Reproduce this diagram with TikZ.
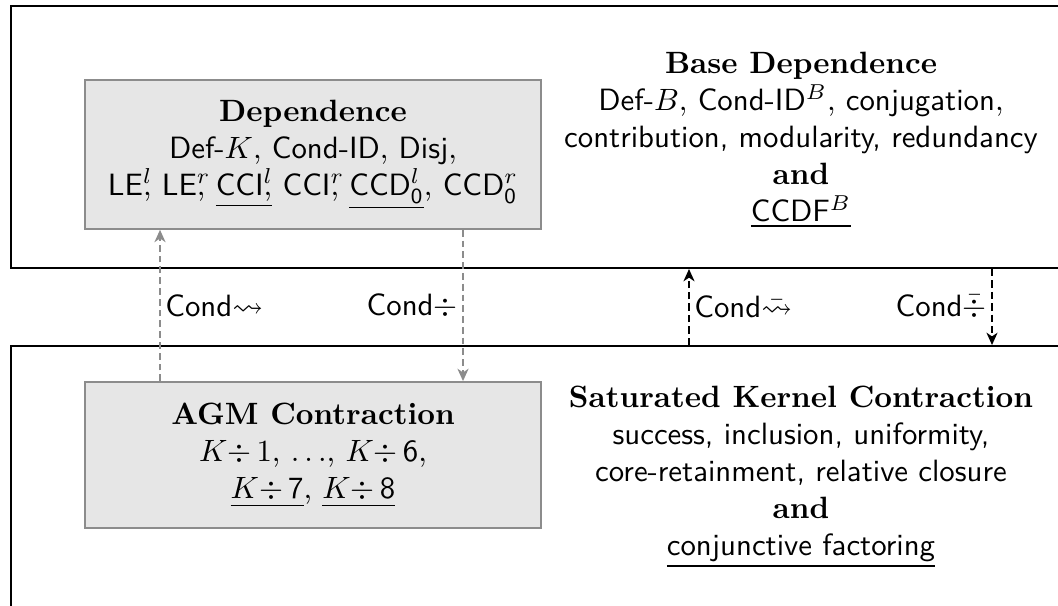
\documentclass[tikz,border=0pt]{standalone}
\usepackage{amssymb}
\usetikzlibrary{arrows.meta}
\definecolor{boxgray}{HTML}{E6E6E6}
\definecolor{linegray}{HTML}{8C8C8C}
\newcommand\tsup[1]{\rlap{$^{#1}$}}
\tikzset{
  frame/.style={draw=black, line width=0.65pt, anchor=north west, inner sep=0pt},
  gbox/.style={draw=linegray, fill=boxgray, line width=0.5pt, minimum width=148pt, minimum height=48.4pt, align=center, inner sep=0pt},
  txt/.style={align=center, inner sep=0pt},
  garrow/.style={draw=linegray, line width=0.5pt, dash pattern=on 2.2pt off 1.3pt, -{Stealth[length=4pt,width=3.6pt,inset=1.2pt]}},
  barrow/.style={draw=black, line width=0.5pt, dash pattern=on 2.4pt off 1.3pt, -{Stealth[length=4pt,width=3.6pt,inset=1.2pt]}},
  lab/.style={inner sep=1.5pt}
}
\begin{document}
\begin{tikzpicture}[x=0.3246pt,y=-0.3246pt]
\useasboundingbox (0,0) rectangle (1058,605);
\begin{scope}
\clip (0,0) rectangle (1058,605);
\node[frame, minimum width=352pt, minimum height=85.05pt] (topframe) at (10,5) {};
\node[frame, minimum width=352pt, minimum height=97.4pt] (botframe) at (10,345) {};
\end{scope}

\node[gbox] (dep) at (313,154.5) {\textbf{Dependence}\\
\textsf{Def-}$K$, \textsf{Cond-ID}, \textsf{Disj},\\
\textsf{LE}\tsup{l}, \textsf{LE}\tsup{r}, \underline{\textsf{CCI}\tsup{l},} \textsf{CCI}\tsup{r}, \underline{\textsf{CCD}$^l_{\mathsf{0}}$}, \textsf{CCD}$^r_{\mathsf{0}}$};

\node[gbox, minimum height=47.5pt] (agm) at (313,455) {\textbf{AGM Contraction}\\
$K{\div}\,1$, $\ldots$, $K{\div}\,\mathsf{6}$,\\
\underline{$K{\div}\,\mathsf{7}$}, \underline{$K{\div}\,\mathsf{8}$}};

\node[txt] (bd) at (801,140) {\textbf{Base Dependence}\\
\textsf{Def-}$B$, \textsf{Cond-ID}$^B$, \textsf{conjugation},\\
\textsf{contribution, modularity, redundancy}\\
\textbf{and}\\
\underline{\textsf{CCDF}$^B$}};

\node[txt] (skc) at (801,477) {\textbf{Saturated Kernel Contraction}\\
\textsf{success, inclusion, uniformity,}\\
\textsf{core-retainment, relative closure}\\
\textbf{and}\\
\underline{\textsf{conjunctive factoring}}};

\coordinate (xa) at (160,0);
\coordinate (xb) at (463,0);
\coordinate (xc) at (689,0);
\coordinate (xd) at (992,0);

\draw[garrow] (agm.north -| xa) -- (dep.south -| xa)
  node[lab, midway, right] {\textsf{Cond}$\rightsquigarrow$};
\draw[garrow] (dep.south -| xb) -- (agm.north -| xb)
  node[lab, midway, left] {\textsf{Cond}$\div$};
\draw[barrow] (botframe.north -| xc) -- (topframe.south -| xc)
  node[lab, midway, right] {\textsf{Cond}$\bar{\rightsquigarrow}$};
\draw[barrow] (topframe.south -| xd) -- (botframe.north -| xd)
  node[lab, midway, left] {\textsf{Cond}$\bar{\div}$};
\end{tikzpicture}
\end{document}
